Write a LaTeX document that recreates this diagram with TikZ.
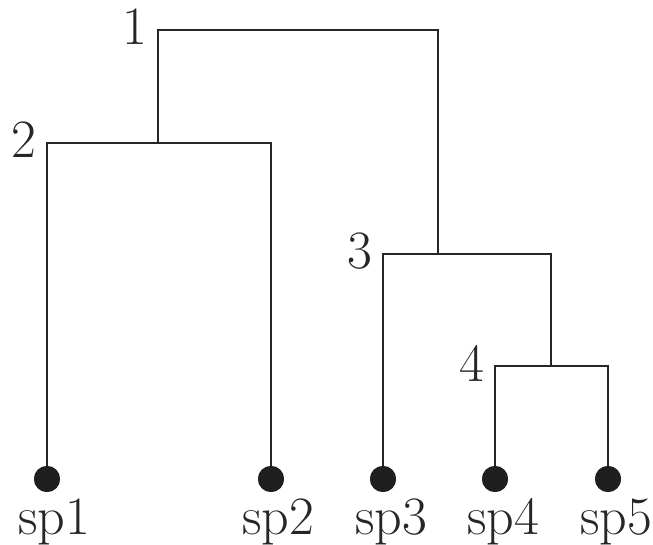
\documentclass[tikz,border=0pt]{standalone}
\begin{document}
\begin{tikzpicture}[x=1pt,y=-1pt,
  edge/.style={line width=2.2pt,draw=black!85},
  leaf/.style={circle,fill=black!88,inner sep=0pt,minimum size=26pt},
  lbl/.style={inner sep=0pt,font=\fontsize{54}{60}\selectfont,text=black!85}]
\useasboundingbox (0,0) rectangle (653,545);
% leaves
\node[leaf] (l1) at (47,479) {};
\node[leaf] (l2) at (271,479) {};
\node[leaf] (l3) at (383,479) {};
\node[leaf] (l4) at (495,479) {};
\node[leaf] (l5) at (608,479) {};
% internal joins
\coordinate (j2) at (158,143);
\coordinate (r) at (298,30);
\coordinate (j3) at (438,254);
\coordinate (j4) at (551,366);
% edges
\draw[edge] (l1.center) |- (j2) -| (l2.center);
\draw[edge] (j2) |- (r) -| (j3);
\draw[edge] (l3.center) |- (j3) -| (j4);
\draw[edge] (l4.center) |- (j4) -| (l5.center);
\node[leaf] at (l1) {};
\node[leaf] at (l2) {};
\node[leaf] at (l3) {};
\node[leaf] at (l4) {};
\node[leaf] at (l5) {};
% internal labels
\node[lbl,anchor=base east] (t1) at (147,45) {1};
\node[lbl,anchor=base east] (t2) at (36,158) {2};
\node[lbl,anchor=base east] (t3) at (372,269) {3};
\node[lbl,anchor=base east] (t4) at (484,381) {4};
% leaf labels
\node[lbl,anchor=base] (s1) at (54,534) {sp1};
\node[lbl,anchor=base] (s2) at (278,534) {sp2};
\node[lbl,anchor=base] (s3) at (391,534) {sp3};
\node[lbl,anchor=base] (s4) at (503,534) {sp4};
\node[lbl,anchor=base] (s5) at (616,534) {sp5};
\end{tikzpicture}
\end{document}
